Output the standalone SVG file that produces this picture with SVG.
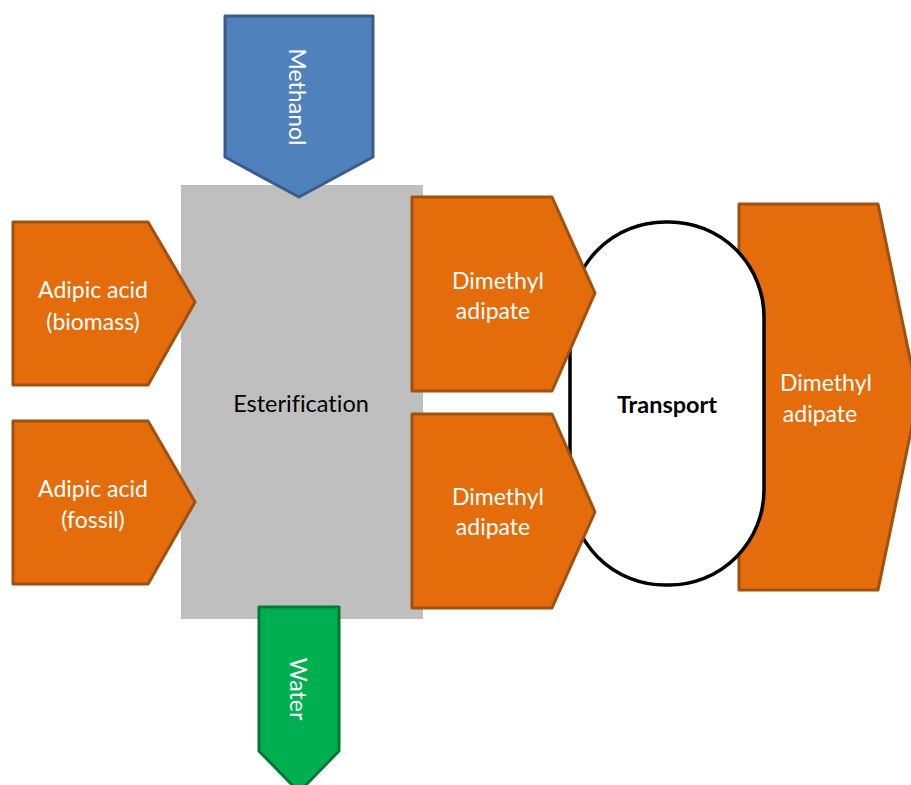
<svg xmlns="http://www.w3.org/2000/svg" width="911" height="785" viewBox="0 0 911 785">
<style>
.or{fill:#E46C0A;stroke:#A0500F;stroke-width:3;stroke-linejoin:round}
.bl{fill:#4F81BD;stroke:#385D8A;stroke-width:3;stroke-linejoin:round}
.gr{fill:#00B050;stroke:#007A33;stroke-width:3;stroke-linejoin:round}
.t{font-family:Lato,"Open Sans","Liberation Sans",sans-serif;font-size:23px;text-anchor:middle;font-variant-ligatures:none}
.w{fill:#FFFFFF}
.k{fill:#000000}
</style>
<g id="esterification">
<rect x="181" y="185" width="242" height="434" fill="#BFBFBF"/>
<text class="t k" x="301" y="412" style="font-size:23.5px">Esterification</text>
</g>
<g id="methanol">
<polygon class="bl" points="225,16 373,16 373,157 299,197 225,157"/>
<text class="t w" transform="translate(289,97) rotate(90)">Methanol</text>
</g>
<g id="water">
<polygon class="gr" points="259,607 339,607 339,751 299,792 259,751"/>
<text class="t w" transform="translate(290,689) rotate(90)">Water</text>
</g>
<g id="adipic-biomass">
<polygon class="or" points="13,222 148,222 195,302 148,385 13,385"/>
<text class="t w" x="93" y="298">Adipic acid</text>
<text class="t w" x="93" y="330">(biomass)</text>
</g>
<g id="adipic-fossil">
<polygon class="or" points="13,421 148,421 195,502 148,584 13,584"/>
<text class="t w" x="93" y="497">Adipic acid</text>
<text class="t w" x="93" y="528">(fossil)</text>
</g>
<g id="dma-out">
<polygon class="or" points="739,204 878,204 918,397 878,590 739,590"/>
<text class="t w" x="826" y="391">Dimethyl</text>
<text class="t w" x="820" y="422">adipate</text>
</g>
<g id="transport">
<rect x="570" y="222" width="194" height="363" rx="95" ry="95" fill="#FFFFFF" stroke="#000000" stroke-width="3.5"/>
<text class="t k" x="667" y="413" font-weight="bold" style="font-size:23.5px">Transport</text>
</g>
<g id="dma-1">
<polygon class="or" points="412,197 552,197 595,293 552,391 412,391"/>
<text class="t w" x="498" y="289">Dimethyl</text>
<text class="t w" x="493" y="319">adipate</text>
</g>
<g id="dma-2">
<polygon class="or" points="412,414 552,414 595,512 552,608 412,608"/>
<text class="t w" x="498" y="505">Dimethyl</text>
<text class="t w" x="493" y="535">adipate</text>
</g>
<g id="connectors"></g>
</svg>
